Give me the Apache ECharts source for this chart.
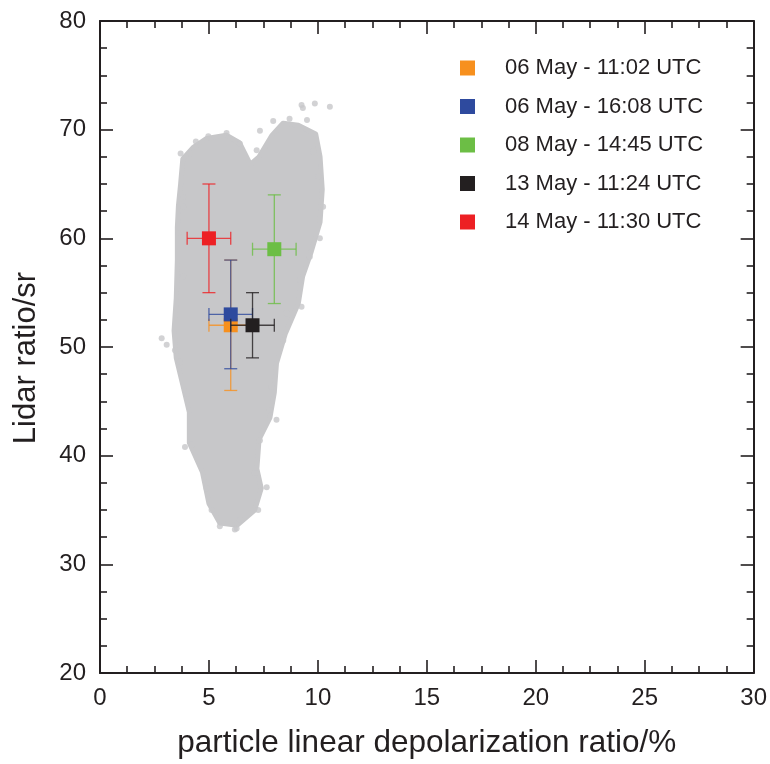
<!DOCTYPE html>
<html><head><meta charset="utf-8">
<script src="https://cdn.jsdelivr.net/npm/echarts@6/dist/echarts.min.js"></script>
<style>html,body{margin:0;padding:0;background:#fff}#c{width:770px;height:764px}</style>
</head><body><div id="c"></div>
<script>
// ---- data ----
const xAxisRange = [0, 30];
const yAxisRange = [20, 80];
const seriesNames = ['06 May - 11:02 UTC', '06 May - 16:08 UTC', '08 May - 14:45 UTC', '13 May - 11:24 UTC', '14 May - 11:30 UTC'];
const pointX = [6, 6, 8, 7, 5];
const pointY = [52, 53, 59, 52, 60];
const xErr = [1, 1, 1, 1, 1];
const yErr = [6, 5, 5, 3, 5];
// outline of the dense grey point cloud
const cloudX = [3.8, 4.3, 4.9, 5.8, 6.4, 6.9, 7.3, 7.9, 8.4, 9.1, 9.9, 10.1, 10.2, 10.1, 9.7, 9.3, 9.1, 8.5, 8.1, 8.0, 7.8, 7.3, 7.2, 7.4, 7.1, 6.3, 5.5, 5.0, 4.7, 4.1, 4.1, 3.8, 3.5, 3.4, 3.5, 3.55, 3.55, 3.6, 3.7];
const cloudY = [67.3, 68.4, 69.2, 69.5, 68.8, 66.8, 67.5, 69.5, 70.6, 70.4, 69.6, 67.5, 64.5, 61.5, 58.8, 56.5, 54.0, 51.2, 48.5, 45.8, 43.5, 41.5, 38.8, 37.0, 35.0, 33.6, 33.8, 35.6, 38.5, 41.2, 44.0, 46.5, 49.0, 51.5, 54.5, 58.0, 61.0, 63.0, 65.0];
// scattered points at the cloud fringe
const fringeX = [9.25, 9.31, 9.86, 10.55, 7.95, 7.34, 7.19, 4.13, 4.97, 5.81, 6.42, 9.79, 10.02, 10.24, 10.09, 3.82, 3.82, 3.59, 3.82, 9.63, 9.17, 9.25, 2.83, 3.06, 3.44, 3.67, 3.98, 3.90, 4.2, 7.88, 8.1, 7.8, 7.34, 7.11, 7.65, 7.26, 4.89, 5.12, 5.5, 6.27, 6.42, 8.41, 8.56, 6.19, 3.7, 4.4, 8.7, 9.5];
const fringeY = [72.27, 72.0, 72.4, 72.1, 70.8, 69.9, 68.1, 67.8, 69.4, 69.7, 68.7, 68.0, 65.7, 62.9, 60.0, 62.9, 63.8, 60.5, 56.5, 58.3, 56.2, 53.7, 50.8, 50.2, 49.7, 48.65, 45.7, 40.8, 41.0, 46.35, 43.3, 44.2, 41.4, 38.4, 37.1, 35.0, 37.0, 35.0, 33.5, 33.3, 34.1, 50.6, 53.1, 33.2, 67.8, 68.9, 71.0, 70.9];

// ---- style ----
const colors = ['#f7901e', '#2e4a9e', '#6cbe45', '#231f20', '#ed2024'];
const CLOUD = '#c7c7c9';
const INK = '#231f20';
const FONT = 'Liberation Sans, Arial, sans-serif';

const chart = echarts.init(document.getElementById('c'), null, {renderer: 'canvas'});

function axisCommon(showLabel, isX) {
  return {
    type: 'value',
    min: isX ? xAxisRange[0] : yAxisRange[0],
    max: isX ? xAxisRange[1] : yAxisRange[1],
    interval: isX ? 5 : 10,
    nameMoveOverlap: false,
    axisLine: {show: true, onZero: false, lineStyle: {color: INK, width: 2}},
    axisTick: {show: true, inside: true, length: 13, lineStyle: {color: INK, width: 1.6}},
    minorTick: {show: true, splitNumber: 4, length: 7, lineStyle: {color: INK, width: 1.6}},
    splitLine: {show: false},
    minorSplitLine: {show: false},
    axisLabel: {show: showLabel, color: INK, fontSize: 24, fontFamily: FONT, margin: isX ? 13 : 14}
  };
}

const series = [];
series.push({
  type: 'custom', silent: true, z: 1,
  xAxisIndex: 0, yAxisIndex: 0,
  data: [[cloudX[0], cloudY[0]]],
  renderItem: (params, api) => ({
    type: 'polygon',
    shape: {points: cloudX.map((x, i) => api.coord([x, cloudY[i]]))},
    style: {fill: CLOUD, stroke: CLOUD, lineWidth: 5, lineJoin: 'round'}
  })
});
series.push({
  type: 'scatter', silent: true, z: 1,
  symbol: 'circle', symbolSize: 6,
  itemStyle: {color: CLOUD},
  data: fringeX.map((x, i) => [x, fringeY[i]])
});

seriesNames.forEach((name, i) => {
  const col = colors[i];
  series.push({
    type: 'custom', silent: true, z: 2 + i * 2,
    data: [[pointX[i], pointY[i], xErr[i], yErr[i]]],
    renderItem: (params, api) => {
      const x = api.value(0), y = api.value(1), ex = api.value(2), ey = api.value(3);
      const top = api.coord([x, y + ey]), bot = api.coord([x, y - ey]);
      const l = api.coord([x - ex, y]), r = api.coord([x + ex, y]);
      const cap = 6.5;
      const st = {stroke: col, lineWidth: 1.3, opacity: 0.8};
      const ln = (x1, y1, x2, y2) => ({type: 'line', shape: {x1, y1, x2, y2}, style: st});
      return {type: 'group', children: [
        ln(top[0], top[1], bot[0], bot[1]),
        ln(top[0] - cap, top[1], top[0] + cap, top[1]),
        ln(bot[0] - cap, bot[1], bot[0] + cap, bot[1]),
        ln(l[0], l[1], r[0], r[1]),
        ln(l[0], l[1] - cap, l[0], l[1] + cap),
        ln(r[0], r[1] - cap, r[0], r[1] + cap)
      ]};
    }
  });
  series.push({
    name: name, type: 'scatter', z: 3 + i * 2,
    symbol: 'rect', symbolSize: 14,
    itemStyle: {color: col, opacity: 1},
    data: [[pointX[i], pointY[i]]]
  });
});

chart.setOption({
  animation: false,
  backgroundColor: '#fff',
  grid: {left: 100, right: 16, top: 21, bottom: 91, containLabel: false},
  legend: {
    data: seriesNames, orient: 'vertical', left: 455, top: 52,
    icon: 'rect', itemWidth: 15, itemHeight: 15, itemGap: 16.5,
    textStyle: {color: INK, fontSize: 22, fontFamily: FONT, padding: [0, 0, 0, 25]}
  },
  xAxis: [
    Object.assign(axisCommon(true, true), {
      position: 'bottom',
      name: 'particle linear depolarization ratio/%', nameLocation: 'middle', nameGap: 70,
      nameTextStyle: {color: INK, fontSize: 31.5, fontFamily: FONT, verticalAlign: 'middle'}
    }),
    Object.assign(axisCommon(false, true), {position: 'top'})
  ],
  yAxis: [
    Object.assign(axisCommon(true, false), {
      position: 'left',
      name: 'Lidar ratio/sr', nameLocation: 'middle', nameGap: 74,
      nameTextStyle: {color: INK, fontSize: 31, fontFamily: FONT, verticalAlign: 'middle', padding: [0, 22, 0, 0]}
    }),
    Object.assign(axisCommon(false, false), {position: 'right'})
  ],
  series: series
});
</script>
</body></html>
